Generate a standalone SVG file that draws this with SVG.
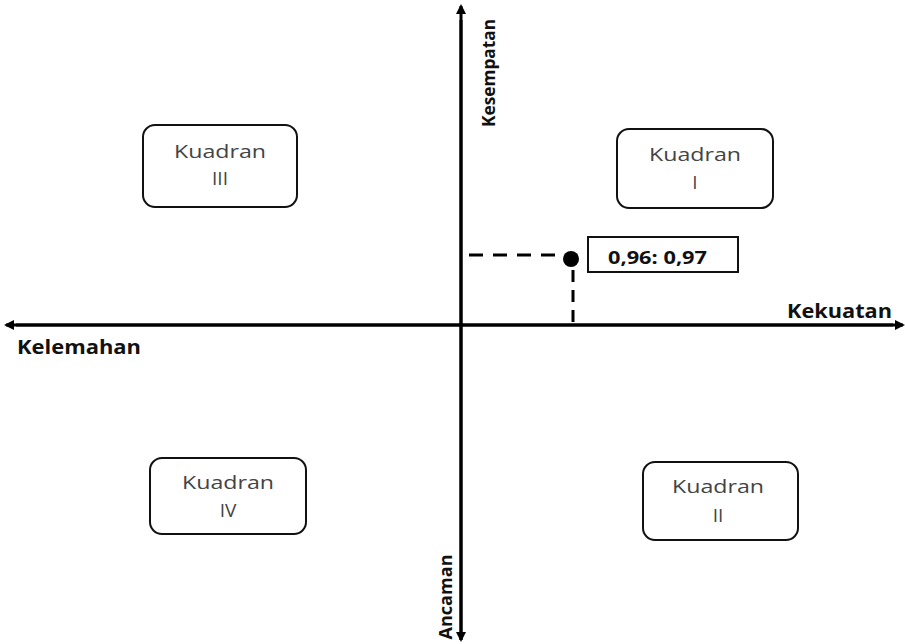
<svg xmlns="http://www.w3.org/2000/svg" width="905" height="644" viewBox="0 0 905 644">
<style>
.box{fill:#fff;stroke:#111;stroke-width:2}
.kt{font-family:"Open Sans","Liberation Sans",sans-serif;font-size:19px;fill:#444;text-anchor:middle}
.ax{font-family:"Open Sans","Liberation Sans",sans-serif;font-weight:bold;font-size:19px;fill:#111}
.axis{stroke:#000;stroke-width:3;fill:none}
.dash{stroke:#000;stroke-width:3;fill:none}
</style>
<defs>
<marker id="ah" markerWidth="10" markerHeight="10" refX="8" refY="5" orient="auto" markerUnits="userSpaceOnUse">
<path d="M0,0 L10,5 L0,10 Z" fill="#000"/>
</marker>
</defs>
<rect width="905" height="644" fill="#fff"/>
<g id="connectors">
<line class="axis" x1="461" y1="640" x2="461" y2="6" marker-end="url(#ah)"/>
<line class="axis" x1="461" y1="20" x2="461" y2="640" marker-end="url(#ah)"/>
<line class="axis" x1="16" y1="325" x2="903" y2="325" marker-end="url(#ah)"/>
<line class="axis" x1="893" y1="325" x2="6" y2="325" marker-end="url(#ah)"/>
<line class="dash" x1="469" y1="255" x2="556" y2="255" stroke-dasharray="14,10"/>
<line class="dash" x1="573" y1="270" x2="573" y2="322" stroke-dasharray="12,8"/>
</g>
<g id="point">
<circle cx="571" cy="259" r="8" fill="#000"/>
</g>
<g id="value">
<rect x="588" y="237" width="150" height="35" fill="#fff" stroke="#111" stroke-width="2"/>
<text class="ax" x="608" y="264" style="font-size:17px" textLength="99" lengthAdjust="spacingAndGlyphs">0,96: 0,97</text>
</g>
<g id="kuadran3">
<rect class="box" x="143" y="125" width="154" height="82" rx="12"/>
<text class="kt" x="220" y="158" textLength="92" lengthAdjust="spacingAndGlyphs">Kuadran</text>
<text class="kt" x="220" y="185">III</text>
</g>
<g id="kuadran1">
<rect class="box" x="617" y="129" width="156" height="79" rx="12"/>
<text class="kt" x="695" y="161" textLength="92" lengthAdjust="spacingAndGlyphs">Kuadran</text>
<text class="kt" x="695" y="189">I</text>
</g>
<g id="kuadran4">
<rect class="box" x="150" y="458" width="156" height="76" rx="12"/>
<text class="kt" x="228" y="489" textLength="92" lengthAdjust="spacingAndGlyphs">Kuadran</text>
<text class="kt" x="228" y="517">IV</text>
</g>
<g id="kuadran2">
<rect class="box" x="643" y="462" width="155" height="78" rx="12"/>
<text class="kt" x="718" y="493" textLength="92" lengthAdjust="spacingAndGlyphs">Kuadran</text>
<text class="kt" x="718" y="522">II</text>
</g>
<g id="labels">
<text class="ax" transform="translate(495,73) rotate(-90)" text-anchor="middle" style="font-size:17px" textLength="108" lengthAdjust="spacingAndGlyphs">Kesempatan</text>
<text class="ax" transform="translate(452,597) rotate(-90)" text-anchor="middle" style="font-size:17px" textLength="85" lengthAdjust="spacingAndGlyphs">Ancaman</text>
<text class="ax" x="17" y="354" textLength="124" lengthAdjust="spacingAndGlyphs">Kelemahan</text>
<text class="ax" x="787" y="318" textLength="105" lengthAdjust="spacingAndGlyphs">Kekuatan</text>
</g>
</svg>
